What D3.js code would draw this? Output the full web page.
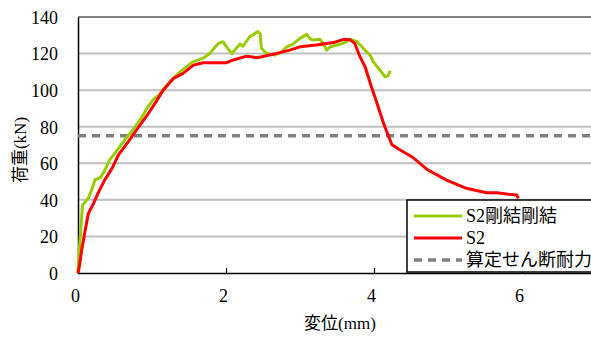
<!DOCTYPE html>
<html>
<head>
<meta charset="utf-8">
<script src="https://cdn.jsdelivr.net/npm/d3@7"></script>
<style>
  body { margin: 0; background: #fff; }
  svg { display: block; }
</style>
</head>
<body>
<svg id="chart" width="591" height="338"></svg>
<script>
// S2剛結剛結 (green) - displacement (mm) / load (kN)
const rigidDisp = [0, 0.01, 0.04, 0.06, 0.1, 0.14, 0.19, 0.23, 0.3, 0.36, 0.43, 0.49, 0.545, 0.635, 0.72, 0.79, 0.86, 0.93, 1.02, 1.11, 1.24, 1.38, 1.55, 1.69, 1.78, 1.84, 1.9, 1.96, 2.02, 2.08, 2.14, 2.19, 2.23, 2.32, 2.43, 2.46, 2.48, 2.55, 2.66, 2.75, 2.82, 2.9, 3.0, 3.09, 3.14, 3.18, 3.27, 3.32, 3.36, 3.41, 3.5, 3.58, 3.68, 3.77, 3.83, 3.9, 3.95, 3.99, 4.08, 4.15, 4.19, 4.22];
const rigidLoad = [0, 9, 25, 37, 39, 41, 46, 51, 52, 56, 62, 65, 68, 73, 77, 81, 85, 90, 95, 98, 104.6, 110, 115.5, 117.5, 120, 123, 125.6, 126.5, 123, 120, 123, 125.2, 124, 129.2, 132, 131, 122.8, 120, 119.2, 121, 123.7, 125, 128.3, 130.5, 128, 127.4, 127.8, 125, 121.9, 123.7, 124.7, 125.6, 127.8, 126.5, 124, 121, 119, 115.5, 111, 107.3, 108, 110.6];

// S2 (red)
const s2Disp = [0, 0.02, 0.05, 0.09, 0.14, 0.21, 0.27, 0.36, 0.46, 0.545, 0.68, 0.79, 0.93, 1.06, 1.15, 1.29, 1.42, 1.56, 1.69, 1.85, 2.01, 2.1, 2.28, 2.42, 2.59, 2.73, 2.86, 3.0, 3.22, 3.45, 3.59, 3.68, 3.74, 3.81, 3.88, 3.95, 4.04, 4.13, 4.24, 4.33, 4.51, 4.73, 4.98, 5.25, 5.52, 5.66, 5.79, 5.93, 5.95];
const s2Load = [0, 4, 12.6, 21.7, 32.6, 38, 43.6, 50.8, 57.2, 64.5, 71.8, 78.2, 86, 94, 100, 106.4, 109.2, 113.7, 115, 115, 115, 116.5, 118.6, 117.7, 119.2, 120.5, 121.9, 123.7, 124.7, 126, 127.8, 127.5, 125.6, 118.3, 112.8, 103.7, 92.8, 81.8, 70.3, 67.8, 63.6, 56.3, 50.8, 46.3, 43.9, 43.9, 43.2, 42.6, 40.8];

// 算定せん断耐力
const shearCapacity = 75;

const yTicks = [0, 20, 40, 60, 80, 100, 120, 140];
const xTicks = [0, 2, 4, 6];
const seriesNames = ['S2剛結剛結', 'S2', '算定せん断耐力'];
const seriesColors = ['#99cc00', '#ff0000', '#808080'];

const serif = "'Liberation Serif', 'DejaVu Serif', 'Noto Sans CJK JP', serif";

const svg = d3.select('#chart')
  .attr('font-family', serif);
const margin = { left: 78, top: 17, right: 670, bottom: 273 };

// x runs to 8 mm; the frame is cut by the window edge
const x = d3.scaleLinear().domain([0, 8]).range([margin.left, margin.right]);
const y = d3.scaleLinear().domain([0, 140]).range([margin.bottom, margin.top]);

// gridlines
svg.append('g')
  .selectAll('line')
  .data(yTicks.filter(d => d > 0))
  .enter()
  .append('line')
  .attr('x1', x(0))
  .attr('x2', x(8))
  .attr('y1', d => y(d))
  .attr('y2', d => y(d))
  .attr('stroke', d => d === 140 ? '#7f7f7f' : '#c0c0c0')
  .attr('stroke-width', 2);

// y axis
const yAxis = d3.axisLeft(y).tickValues(yTicks).tickSize(0).tickPadding(20);
const yAxisEl = svg.append('g')
  .attr('transform', `translate(${margin.left},0)`)
  .call(yAxis)
  .attr('font-family', serif)
  .attr('font-size', 18);
yAxisEl.select('.domain').attr('stroke', '#000').attr('stroke-width', 1.5);
yAxisEl.selectAll('text').attr('fill', '#000').attr('dy', '0.35em');

// x axis
const xAxis = d3.axisBottom(x).tickValues(xTicks).tickSize(-5).tickPadding(20);
const xAxisEl = svg.append('g')
  .attr('transform', `translate(0,${margin.bottom})`)
  .call(xAxis)
  .attr('font-family', serif)
  .attr('font-size', 18);
xAxisEl.select('.domain').attr('stroke', '#000').attr('stroke-width', 1.5);
xAxisEl.selectAll('.tick line').attr('stroke', '#000').attr('stroke-width', 1.2);
xAxisEl.selectAll('text').attr('fill', '#000').attr('dx', -3).attr('dy', '0.5em');

// capacity line
svg.append('line')
  .attr('x1', x(0))
  .attr('x2', x(8))
  .attr('y1', y(shearCapacity))
  .attr('y2', y(shearCapacity))
  .attr('stroke', seriesColors[2])
  .attr('stroke-width', 3.5)
  .attr('stroke-dasharray', '8,6');

const line = d3.line()
  .x(d => x(d[0]))
  .y(d => y(d[1]));

svg.append('path')
  .datum(d3.zip(rigidDisp, rigidLoad))
  .attr('d', line)
  .attr('fill', 'none')
  .attr('stroke', seriesColors[0])
  .attr('stroke-width', 3)
  .attr('stroke-linejoin', 'round');

svg.append('path')
  .datum(d3.zip(s2Disp, s2Load))
  .attr('d', line)
  .attr('fill', 'none')
  .attr('stroke', seriesColors[1])
  .attr('stroke-width', 3)
  .attr('stroke-linejoin', 'round');

// axis titles
svg.append('text')
  .attr('x', 340)
  .attr('y', 329)
  .attr('text-anchor', 'middle')
  .attr('font-size', 17)
  .text('変位(mm)');

svg.append('text')
  .attr('transform', 'translate(26,150) rotate(-90)')
  .attr('text-anchor', 'middle')
  .attr('font-size', 17)
  .text('荷重(kN)');

// legend
const legend = svg.append('g').attr('transform', 'translate(407,200)');
legend.append('rect')
  .attr('x', 0)
  .attr('y', 0)
  .attr('width', 200)
  .attr('height', 72)
  .attr('fill', '#fff')
  .attr('stroke', '#000')
  .attr('stroke-width', 1.5);

const items = legend.selectAll('.item')
  .data(seriesNames)
  .enter()
  .append('g')
  .attr('transform', (d, i) => `translate(0,${16 + i * 22})`);

items.append('line')
  .attr('x1', 7)
  .attr('x2', 55)
  .attr('stroke', (d, i) => seriesColors[i])
  .attr('stroke-width', (d, i) => i === 2 ? 3.5 : 3)
  .attr('stroke-dasharray', (d, i) => i === 2 ? '8,6' : null);

items.append('text')
  .attr('x', 59)
  .attr('dy', '0.35em')
  .attr('font-size', 18)
  .text(d => d);
</script>
</body>
</html>
